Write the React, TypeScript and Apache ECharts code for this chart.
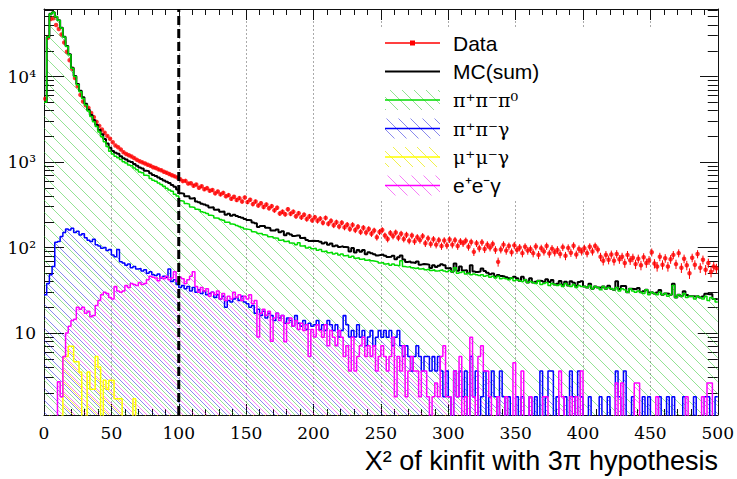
import React, { useEffect, useRef } from 'react';
import * as echarts from 'echarts';

// ---- axis ranges / layout constants ----
const BIN_WIDTH = 2;
const X_MIN = 0;
const X_MAX = 500;
const X_TICK_STEP = 50;
const Y_MIN = 1.1;
const Y_MAX = 61600;
const CUT = 100;
const Y_LABEL_DECADES = [1, 2, 3, 4];
const SUP = ['⁰', '¹', '²', '³', '⁴'];

const SERIF = 'DejaVu Serif';
const SANS = 'Liberation Sans';

// ---- histograms (bin width 2, x from 0 to 500) ----
const piPiPi0 = [
  5000, 29000, 54000, 56500, 50000, 45500, 37000, 29000, 22500, 18000,
  12500, 10000, 8000, 6650, 5550, 4650, 3950, 3400, 2950, 2600,
  2250, 1980, 1730, 1520, 1340, 1240, 1170, 1125, 1070, 1010,
  975, 925, 905, 850, 810, 765, 748, 700, 690, 640,
  612, 595, 570, 545, 520, 495, 470, 455, 420, 400,
  352, 348, 328, 322, 298, 294, 280, 276, 262, 256,
  250, 238, 236, 222, 220, 212, 208, 198, 198, 188,
  186, 181, 176, 172, 165, 163, 160, 153, 151, 146,
  146, 141, 139, 134, 134, 129, 128, 122, 123, 118,
  119, 113, 112, 108, 114, 104, 105, 99, 101, 97,
  98, 93, 95, 90, 91, 87, 88, 84, 86, 82,
  84, 80, 81, 77, 79, 75, 76, 73, 74, 71,
  72, 70, 69, 68, 66, 67, 64, 65, 62, 64,
  62, 61, 70, 60, 59, 60, 58, 57, 58, 56,
  57, 55, 56, 54, 55, 53, 54, 55, 53, 52,
  54, 52, 58, 50, 51, 52, 49, 50, 48, 49,
  48, 47, 48, 46, 47, 45, 46, 44, 46, 43,
  44, 43, 42, 44, 41, 42, 41, 40, 42, 39,
  40, 39, 38, 41, 37, 38, 39, 36, 38, 37,
  36, 37, 35, 38, 36, 35, 37, 34, 36, 35,
  35, 34, 36, 33, 35, 34, 32, 35, 33, 34,
  33, 32, 34, 31, 33, 32, 30, 33, 31, 30,
  31, 30, 29, 32, 28, 30, 29, 28, 30, 28,
  29, 27, 28, 36, 26, 28, 27, 29, 26, 27,
  27, 25, 27, 26, 25, 27, 24, 26, 25, 23,
];

const piPiGamma = [
  28, 38, 48, 60, 115, 118, 135, 150, 165, 160,
  168, 150, 155, 140, 145, 130, 122, 118, 125, 108,
  104, 98, 100, 92, 95, 82, 78, 95, 68, 66,
  62, 64, 58, 60, 56, 57, 53, 55, 50, 52,
  48, 47, 49, 44, 46, 45, 56, 40, 42, 37,
  34, 36, 33, 35, 31, 34, 30, 32, 29, 31,
  28, 29, 30, 26, 28, 25, 27, 20, 24, 23,
  25, 26, 24, 27, 23, 22, 20, 21, 17, 19,
  16, 18, 15, 17, 16, 14, 17, 15, 16, 13,
  15, 14, 12, 16, 13, 12, 14, 11, 13, 12,
  12.5, 14, 11, 12.5, 10.7, 14, 12.5, 10.7, 12.5, 9,
  10.7, 16, 12.5, 9, 10.7, 9, 12.5, 8.9, 10.7, 7.1,
  9, 10.7, 7.1, 8.9, 10.7, 8.9, 10.7, 8.9, 10.7, 7.1,
  8.9, 10.7, 7.1, 5.3, 7.1, 5.3, 3.6, 5.3, 7.1, 5.3,
  3.6, 5.3, 5.3, 3.6, 5.3, 3.6, 5.3, 3.6, 1.8, 3.6,
  1.8, 0, 3.6, 1.8, 3.6, 1.8, 3.6, 0, 5.3, 1.8,
  3.6, 0, 1.8, 3.6, 0, 1.8, 3.6, 1.8, 0, 3.6,
  1.8, 0, 1.8, 0, 0, 1.8, 0, 1.8, 0, 0,
  1.8, 0, 1.8, 0, 3.6, 0, 1.8, 3.6, 3.6, 0,
  1.8, 0, 0, 1.8, 0, 3.6, 1.8, 0, 3.6, 1.8,
  0, 0, 1.8, 0, 0, 0, 1.8, 0, 0, 1.8,
  0, 0, 3.6, 1.8, 0, 3.6, 0, 0, 1.8, 0,
  0, 0, 1.8, 0, 1.8, 0, 0, 0, 1.8, 0,
  0, 1.8, 0, 1.8, 0, 0, 0, 1.8, 0, 0,
  0, 1.8, 0, 0, 0, 1.8, 1.8, 0, 0, 1.8,
];

const muMuGamma = [
  0, 0, 0, 0, 0, 0, 0, 5.3, 5.3, 7.0,
  7.0, 4.6, 4.6, 3.5, 0, 0, 3.5, 2.2, 2.2, 5.3,
  4.0, 0, 2.8, 2.2, 2.8, 2.8, 1.7, 1.7, 1.7, 0,
  0, 0, 0, 1.7, 0, 0, 0, 0, 0, 0,
  0, 0, 0, 0, 0, 0, 0, 0, 0, 0,
  0, 0, 0, 0, 0, 0, 0, 0, 0, 0,
  0, 0, 0, 0, 0, 0, 0, 0, 0, 0,
  0, 0, 0, 0, 0, 0, 0, 0, 0, 0,
  0, 0, 0, 0, 0, 0, 0, 0, 0, 0,
  0, 0, 0, 0, 0, 0, 0, 0, 0, 0,
  0, 0, 0, 0, 0, 0, 0, 0, 0, 0,
  0, 0, 0, 0, 0, 0, 0, 0, 0, 0,
  0, 0, 0, 0, 0, 0, 0, 0, 0, 0,
  0, 0, 0, 0, 0, 0, 0, 0, 0, 0,
  0, 0, 0, 0, 0, 0, 0, 0, 0, 0,
  0, 0, 0, 0, 0, 0, 0, 0, 0, 0,
  0, 0, 0, 0, 0, 0, 0, 0, 0, 0,
  0, 0, 0, 0, 0, 0, 0, 0, 0, 0,
  0, 0, 0, 0, 0, 0, 0, 0, 0, 0,
  0, 0, 0, 0, 0, 0, 0, 0, 0, 0,
  0, 0, 0, 0, 0, 0, 0, 0, 0, 0,
  0, 0, 0, 0, 0, 0, 0, 0, 0, 0,
  0, 0, 0, 0, 0, 0, 0, 0, 0, 0,
  0, 0, 0, 0, 0, 0, 0, 0, 0, 0,
  0, 0, 0, 0, 0, 0, 0, 0, 0, 0,
];

const eeGamma = [
  0, 0, 0, 0, 0, 2.7, 1.8, 5.3, 10, 12,
  14, 14.5, 20, 19, 20, 17, 18, 15.5, 16, 21,
  24, 28, 30, 29, 26, 25, 35, 31, 30, 31,
  36, 34, 38, 37, 36, 39, 37, 38, 42, 46,
  45, 44, 41, 45, 43, 46, 42, 44, 52, 40,
  45, 43, 38, 42, 46, 52, 35, 30, 34, 31,
  33, 27, 30, 28, 31, 25, 29, 24, 27, 25,
  30, 26, 28, 24, 27, 25, 28, 22, 24, 9,
  17, 19, 16, 18, 8, 15, 17, 14, 16, 7.9,
  13, 15, 12, 14, 11, 13, 10.7, 12.5, 5.3, 11,
  9, 12.5, 10.7, 8.9, 12.5, 7.1, 10.7, 8.9, 7.1, 10.7,
  8.9, 5.3, 7.1, 3.6, 8.9, 3.6, 5.3, 7.1, 8.9, 5.3,
  7.1, 5.3, 7.1, 3.6, 5.3, 7.1, 5.3, 3.6, 5.3, 8.9,
  1.8, 5.3, 3.6, 7.1, 1.8, 3.6, 5.3, 3.6, 3.6, 1.8,
  3.6, 3.6, 1.8, 0, 1.8, 2.6, 1.8, 5.3, 7.1, 1.8,
  1.8, 0, 3.6, 1.8, 5.3, 0, 1.8, 0, 8.9, 1.8,
  0, 5.3, 7.1, 3.6, 3.6, 1.8, 0, 0, 1.8, 0,
  0, 1.8, 0, 0, 4.5, 0, 0, 3.6, 0, 0,
  1.8, 0, 0, 0, 0, 1.8, 1.8, 0, 0, 0,
  0, 3.6, 1.8, 0, 0, 1.8, 0, 1.8, 0, 3.6,
  0, 0, 0, 0, 0, 0, 0, 0, 0, 0,
  0, 0, 2.6, 0, 2.6, 0, 0, 0, 0, 2.6,
  2.6, 0, 0, 0, 0, 0, 0, 1.8, 0, 0,
  0, 0, 0, 0, 0, 0, 0, 0, 1.8, 0,
  0, 0, 0, 0, 1.8, 0, 2.6, 2.6, 0, 0,
];

const dataCounts = [
  5500, 28500, 47000, 48000, 40000, 36000, 31000, 25000, 19500, 15500,
  12300, 9600, 7700, 6100, 5100, 4600, 4300, 3750, 3350, 2950,
  2650, 2400, 2200, 2020, 1870, 1700, 1560, 1490, 1400, 1300,
  1240, 1200, 1160, 1110, 1060, 1020, 990, 960, 930, 905,
  870, 850, 820, 800, 770, 750, 725, 700, 680, 660,
  630, 598, 602, 560, 565, 528, 545, 500, 520, 480,
  495, 462, 470, 430, 452, 418, 436, 398, 410, 372,
  392, 360, 378, 345, 385, 340, 362, 322, 345, 310,
  330, 298, 318, 288, 305, 272, 292, 250, 262, 245,
  280, 248, 262, 232, 252, 225, 242, 215, 232, 208,
  226, 205, 218, 195, 222, 190, 205, 182, 198, 176,
  195, 172, 185, 165, 184, 160, 175, 152, 170, 150,
  165, 145, 158, 132, 152, 160, 138, 126, 148, 136,
  150, 130, 145, 126, 141, 120, 138, 118, 132, 122,
  136, 112, 128, 110, 125, 108, 122, 104, 121, 106,
  124, 108, 122, 104, 118, 112, 120, 102, 116, 89,
  112, 98, 115, 96, 108, 100, 110, 94, 68, 95,
  108, 92, 104, 88, 106, 94, 100, 86, 102, 92,
  96, 86, 103, 82, 98, 90, 104, 85, 97, 88,
  94, 84, 101, 80, 99, 87, 105, 83, 96, 90,
  98, 86, 102, 90, 104, 95, 78, 70, 82, 72,
  83, 70, 84, 73, 78, 66, 82, 71, 76, 64,
  74, 62, 77, 66, 71, 88, 65, 60, 78, 63,
  75, 60, 73, 82, 64, 86, 58, 74, 62, 50,
  76, 63, 84, 58, 72, 55, 66, 52, 60, 57,
];

const LEGEND_ENTRIES = ['Data', 'MC(sum)', 'π⁺π⁻π⁰', 'π⁺π⁻γ', 'μ⁺μ⁻γ', 'e⁺e⁻γ'];
const X_TITLE = 'X² of kinfit with 3π hypothesis';

const FLOOR = 0.01; // empty bins drawn below the axis minimum (clipped)

function makeHatch(color: string, spacing: number, offset: number) {
  const c = document.createElement('canvas');
  c.width = spacing;
  c.height = spacing;
  const ctx = c.getContext('2d')!;
  ctx.strokeStyle = color;
  ctx.lineWidth = 1;
  ctx.beginPath();
  for (let k = -2; k <= 2; k++) {
    const a = k * spacing + offset;
    ctx.moveTo(a - 2, -2);
    ctx.lineTo(a + spacing + 2, spacing + 2);
  }
  ctx.stroke();
  return { image: c, repeat: 'repeat', imageWidth: spacing, imageHeight: spacing } as any;
}

function toSteps(vals: number[]) {
  const pts: number[][] = vals.map((v, i) => [X_MIN + i * BIN_WIDTH, v > 0 ? v : FLOOR]);
  const last = vals[vals.length - 1];
  pts.push([X_MIN + vals.length * BIN_WIDTH, last > 0 ? last : FLOOR]);
  return pts;
}

export default function App() {
  const ref = useRef<HTMLDivElement>(null);
  useEffect(() => {
    if (!ref.current) return;
    const chart = echarts.init(ref.current, undefined, { renderer: 'svg' });

    const LMIN = Math.log10(Y_MIN);
    const LMAX = Math.log10(Y_MAX);
    const minorTicks: number[] = [];
    for (let n = 0; n <= 4; n++) {
      for (let k = 2; k <= 9; k++) {
        const v = k * Math.pow(10, n);
        if (v > Y_MIN && v < Y_MAX) minorTicks.push(Math.log10(v));
      }
    }

    const mcSum = piPiPi0.map((g, i) => g + piPiGamma[i] + muMuGamma[i] + eeGamma[i]);

    const SP = 12;
    const hatchGreen = makeHatch('rgba(40,200,40,0.5)', SP, 0);
    const hatchBlue = makeHatch('rgba(20,20,220,0.5)', SP, 4);
    const hatchYellow = makeHatch('rgba(235,235,0,0.7)', SP, 6);
    const hatchMagenta = makeHatch('rgba(240,0,240,0.5)', SP, 8);

    const hist = (name: string, vals: number[], color: string, width: number, hatch?: any) => ({
      type: 'line',
      name,
      data: toSteps(vals),
      step: 'end',
      symbol: 'none',
      showSymbol: false,
      xAxisIndex: 0,
      yAxisIndex: 0,
      silent: true,
      lineStyle: { color, width },
      itemStyle: { color },
      areaStyle: hatch ? { color: hatch, opacity: 1, origin: 'start' } : undefined,
    });

    const dataPts = dataCounts.map((v, i) => [X_MIN + (i + 0.5) * BIN_WIDTH, v, Math.sqrt(v)]);

    const yTickAxis = (position: 'left' | 'right', major: boolean, labels: boolean) => ({
      type: 'value',
      position,
      min: LMIN,
      max: LMAX,
      axisLine: { show: major, lineStyle: { color: '#111', width: 1 } },
      axisTick: {
        show: true,
        inside: true,
        length: major ? 20 : 10,
        customValues: major ? Y_LABEL_DECADES : minorTicks,
        lineStyle: { color: '#111', width: 1 },
      },
      axisLabel: labels
        ? {
            show: true,
            customValues: Y_LABEL_DECADES,
            margin: 8,
            fontFamily: SERIF,
            fontSize: 17,
            color: '#000',
            formatter: (v: number) => {
              const n = Math.round(v);
              return n === 1 ? '10' : '10' + SUP[n];
            },
          }
        : { show: false },
      splitLine: { show: false },
    });

    const legendX1 = 385;
    const legendX2 = 440;
    const legendY0 = 43;
    const legendDY = 28.5;
    const legendColors = ['#ff0000', '#000000', '#00dd00', '#0000ff', '#ffff00', '#ff00ff'];
    const legendHatches = [null, null, hatchGreen, hatchBlue, hatchYellow, hatchMagenta];
    const legendFonts = [SANS, SANS, SERIF, SERIF, SERIF, SANS];
    const legendSizes = [21, 21, 19, 19, 19, 21];
    const legendEls: any[] = [
      { type: 'rect', z: 50, shape: { x: 378, y: 27, width: 322, height: 174 }, style: { fill: '#fff' } },
    ];
    LEGEND_ENTRIES.forEach((label, i) => {
      const y = legendY0 + i * legendDY;
      const h = legendHatches[i];
      if (h) {
        legendEls.push({
          type: 'rect', z: 51,
          shape: { x: legendX1, y: y - 10, width: legendX2 - legendX1, height: 20 },
          style: { fill: h },
        });
      }
      legendEls.push({
        type: 'line', z: 52,
        shape: { x1: legendX1, y1: y, x2: legendX2, y2: y },
        style: { stroke: legendColors[i], lineWidth: i === 1 ? 2 : 1.5 },
      });
      if (i === 0) {
        legendEls.push({
          type: 'rect', z: 53,
          shape: { x: (legendX1 + legendX2) / 2 - 2.5, y: y - 2.5, width: 5, height: 5 },
          style: { fill: legendColors[0] },
        });
      }
      legendEls.push({
        type: 'text', z: 53, x: 453, y,
        style: {
          text: label,
          fill: '#000',
          font: `${legendSizes[i]}px '${legendFonts[i]}'`,
          align: 'left',
          verticalAlign: 'middle',
        },
      });
    });
    legendEls.push({
      type: 'text', z: 53, x: 718, y: 461,
      style: {
        text: X_TITLE,
        fill: '#000',
        font: `27px '${SANS}'`,
        align: 'right',
        verticalAlign: 'middle',
      },
    });

    const option: any = {
      animation: false,
      backgroundColor: '#fff',
      grid: { left: 44, right: 18, top: 9, bottom: 64, containLabel: false },
      xAxis: [
        {
          type: 'value',
          min: X_MIN,
          max: X_MAX,
          interval: X_TICK_STEP,
          position: 'bottom',
          axisLine: { show: true, lineStyle: { color: '#111', width: 1 } },
          axisTick: { show: true, inside: true, length: 11, lineStyle: { color: '#111' } },
          minorTick: { show: true, splitNumber: 5, length: 6, lineStyle: { color: '#111' } },
          axisLabel: { fontFamily: SERIF, fontSize: 17, color: '#000', margin: 9 },
          splitLine: { show: true, lineStyle: { color: '#aaa', type: [2, 2], width: 1 } },
        },
        {
          type: 'value',
          min: X_MIN,
          max: X_MAX,
          interval: X_TICK_STEP,
          position: 'top',
          axisLine: { show: true, lineStyle: { color: '#111', width: 1 } },
          axisTick: { show: true, inside: true, length: 11, lineStyle: { color: '#111' } },
          minorTick: { show: true, splitNumber: 5, length: 6, lineStyle: { color: '#111' } },
          axisLabel: { show: false },
          splitLine: { show: false },
        },
      ],
      yAxis: [
        {
          type: 'log',
          min: Y_MIN,
          max: Y_MAX,
          show: false,
          splitLine: { show: false },
        },
        yTickAxis('left', true, true),
        yTickAxis('left', false, false),
        yTickAxis('right', true, false),
        yTickAxis('right', false, false),
      ],
      graphic: { elements: legendEls },
      series: [
        hist('MC(sum)', mcSum, '#000000', 2),
        hist('π⁺π⁻π⁰', piPiPi0, '#00dd00', 1.5, hatchGreen),
        hist('π⁺π⁻γ', piPiGamma, '#0000ff', 1.5, hatchBlue),
        hist('μ⁺μ⁻γ', muMuGamma, '#ffff00', 1.5, hatchYellow),
        hist('e⁺e⁻γ', eeGamma, '#ff00ff', 1.5, hatchMagenta),
        {
          type: 'line',
          name: 'cut',
          data: [[CUT, Y_MIN], [CUT, Y_MAX]],
          symbol: 'none',
          xAxisIndex: 0,
          yAxisIndex: 0,
          silent: true,
          lineStyle: { color: '#000', width: 3, type: [9, 4] },
        },
        {
          type: 'custom',
          name: 'Data errors',
          xAxisIndex: 0,
          yAxisIndex: 0,
          data: dataPts,
          encode: { x: 0, y: 1 },
          silent: true,
          renderItem: (params: any, api: any) => {
            const x = api.value(0);
            const v = api.value(1);
            const e = api.value(2);
            const p1 = api.coord([x, Math.max(v - e, FLOOR)]);
            const p2 = api.coord([x, v + e]);
            return {
              type: 'line',
              shape: { x1: p1[0], y1: p1[1], x2: p2[0], y2: p2[1] },
              style: { stroke: '#ff0000', lineWidth: 1 },
            };
          },
        },
        {
          type: 'scatter',
          name: 'Data',
          xAxisIndex: 0,
          yAxisIndex: 0,
          data: dataPts.map((p) => [p[0], p[1]]),
          symbol: 'circle',
          symbolSize: 4.5,
          silent: true,
          itemStyle: { color: '#ff0000' },
        },
      ],
    };

    chart.setOption(option);
    return () => chart.dispose();
  }, []);

  return (
    <div
      ref={ref}
      style={{ position: 'fixed', left: 0, top: 0, width: 737, height: 479, background: '#fff' }}
    />
  );
}
